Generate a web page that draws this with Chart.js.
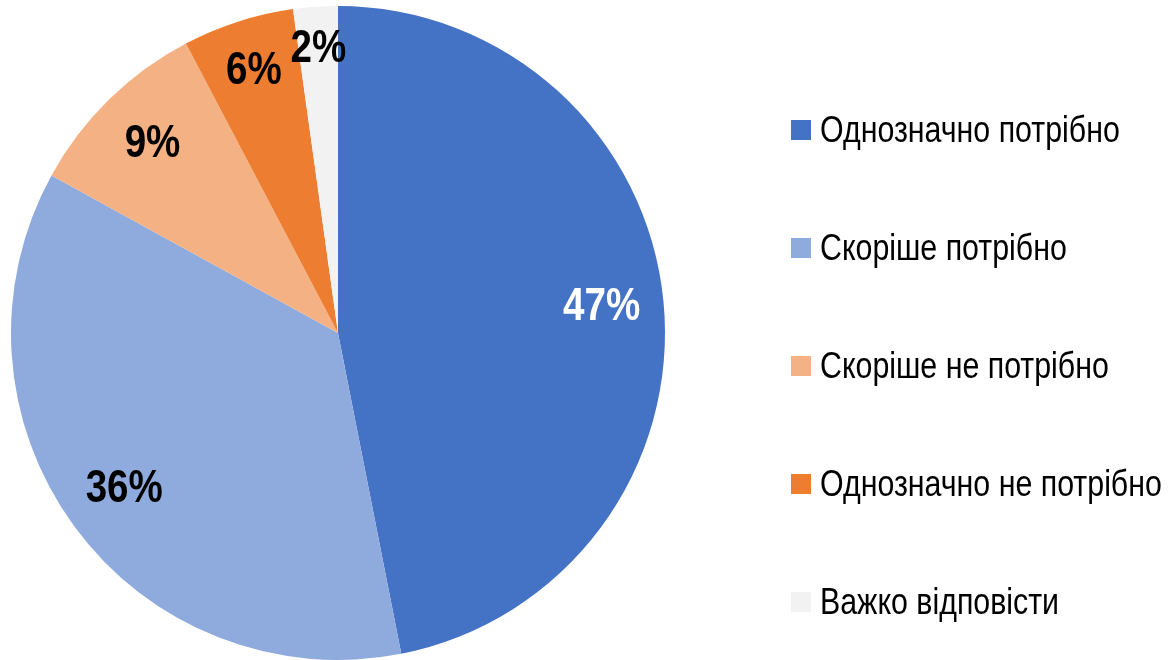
<!DOCTYPE html>
<html lang="uk">
<head>
  <meta charset="UTF-8">
  <title>Pie</title>
  <script src="https://cdn.jsdelivr.net/npm/chart.js"></script>
  <style>
    body { margin: 0; background: #fff; }
    #wrap { position: relative; width: 1171px; height: 660px; }
    #legend { position: absolute; left: 791px; top: 0; font-family: "Liberation Sans", Arial, sans-serif; font-size: 37px; color: #000; }
    .item { position: absolute; left: 0; white-space: nowrap; display: flex; align-items: center; height: 40px; }
    .box { width: 20px; height: 20px; margin-right: 9px; flex: none; }
    .txt { display: inline-block; transform: scaleX(0.82); transform-origin: left center; }
  </style>
</head>
<body>
<div id="wrap">
  <canvas id="pie" width="1171" height="660"></canvas>
  <div id="legend"></div>
</div>

<script>
  const labels = ["Однозначно потрібно", "Скоріше потрібно", "Скоріше не потрібно", "Однозначно не потрібно", "Важко відповісти"];
  const values = [46.9, 36.1, 9.3, 5.5, 2.2];
  const shown = ["47%", "36%", "9%", "6%", "2%"];
  const colors = ["#4472C4", "#8FAADC", "#F4B183", "#ED7D31", "#F2F2F2"];
  const labelColors = ["#fff", "#000", "#000", "#000", "#000"];
  const labelRadius = [0.81, 0.81, 0.81, 0.84, 0.87];

  // legend as html, narrow font faked with scaleX
  const legend = document.getElementById("legend");
  labels.forEach((l, i) => {
    const d = document.createElement("div");
    d.className = "item";
    d.style.top = (110 + i * 118) + "px";
    d.innerHTML = '<span class="box" style="background:' + colors[i] + '"></span><span class="txt">' + l + '</span>';
    legend.appendChild(d);
  });

  const pctLabels = {
    id: "pctLabels",
    afterDatasetsDraw(chart) {
      const ctx = chart.ctx;
      const meta = chart.getDatasetMeta(0);
      meta.data.forEach((arc, i) => {
        const mid = (arc.startAngle + arc.endAngle) / 2;
        const r = arc.outerRadius * labelRadius[i];
        ctx.save();
        ctx.translate(arc.x + Math.cos(mid) * r, arc.y + Math.sin(mid) * r);
        ctx.scale(0.82, 1);
        ctx.font = "bold 47px 'Liberation Sans', Arial, sans-serif";
        ctx.textAlign = "center";
        ctx.textBaseline = "middle";
        ctx.fillStyle = labelColors[i];
        ctx.fillText(shown[i], 0, 0);
        ctx.restore();
      });
    }
  };

  new Chart(document.getElementById("pie"), {
    type: "pie",
    data: {
      labels: labels,
      datasets: [{
        data: values,
        backgroundColor: colors,
        borderWidth: 0
      }]
    },
    options: {
      responsive: false,
      animation: false,
      layout: { padding: { left: 11, top: 6, right: 506, bottom: 0 } },
      plugins: { legend: { display: false }, tooltip: { enabled: false } }
    },
    plugins: [pctLabels]
  });
</script>
</body>
</html>
